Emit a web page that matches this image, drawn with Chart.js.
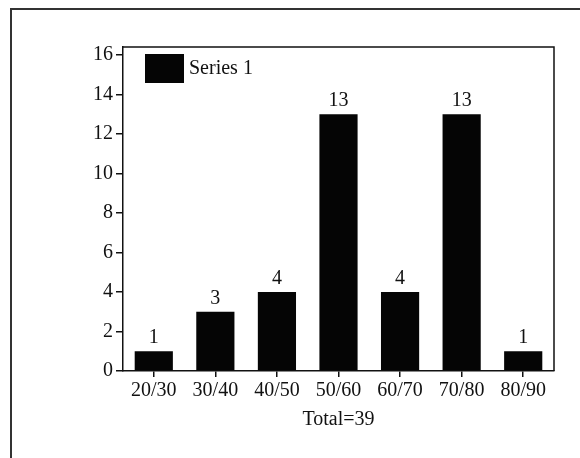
<!DOCTYPE html>
<html>
<head>
<meta charset="utf-8">
<script src="https://cdn.jsdelivr.net/npm/chart.js@4/dist/chart.umd.min.js"></script>
<style>
  html, body { margin: 0; padding: 0; background: #fff; }
  #wrap { position: relative; width: 580px; height: 458px; }
</style>
</head>
<body>
<div id="wrap"><canvas id="ageChart" width="580" height="458"></canvas></div>
<script>
// Chart data
const categories = ['20/30', '30/40', '40/50', '50/60', '60/70', '70/80', '80/90'];
const seriesName = 'Series 1';
const counts = [1, 3, 4, 13, 4, 13, 1];
const yTicks = [0, 2, 4, 6, 8, 10, 12, 14, 16];
const axisTitle = 'Total=39';

const serif = 'Liberation Serif, Times New Roman, serif';
const ink = '#111';

// outer frame, plot box, legend and value labels
const decorations = {
    id: 'decorations',
    beforeDraw(chart) {
        const c = chart.ctx;
        c.save();
        c.strokeStyle = '#333';
        c.lineWidth = 2;
        c.beginPath();
        c.moveTo(11, 458);
        c.lineTo(11, 9);
        c.lineTo(580, 9);
        c.stroke();
        c.restore();
    },
    afterDatasetsDraw(chart) {
        const c = chart.ctx;
        const area = chart.chartArea;
        c.save();
        // top and right edges of plot box
        c.strokeStyle = ink;
        c.lineWidth = 1.5;
        c.beginPath();
        c.moveTo(area.left, area.top);
        c.lineTo(area.right, area.top);
        c.lineTo(area.right, area.bottom);
        c.stroke();

        // value labels above bars
        c.fillStyle = ink;
        c.font = '20px ' + serif;
        c.textAlign = 'center';
        c.textBaseline = 'bottom';
        const meta = chart.getDatasetMeta(0);
        meta.data.forEach((bar, i) => {
            c.fillText(String(chart.data.datasets[0].data[i]), bar.x, bar.y - 3);
        });

        // legend
        const ds = chart.data.datasets[0];
        c.fillStyle = ds.backgroundColor;
        c.fillRect(area.left + 22, area.top + 7, 39, 29);
        c.fillStyle = ink;
        c.textAlign = 'left';
        c.textBaseline = 'middle';
        c.fillText(ds.label, area.left + 66, area.top + 22);
        c.restore();
    }
};

new Chart(document.getElementById('ageChart'), {
    type: 'bar',
    data: {
        labels: categories,
        datasets: [{
            label: seriesName,
            data: counts,
            backgroundColor: '#050505',
            borderWidth: 0,
            categoryPercentage: 0.62,
            barPercentage: 1
        }]
    },
    options: {
        responsive: false,
        animation: false,
        devicePixelRatio: 1,
        layout: { padding: { left: 0, top: 47, right: 26, bottom: 22 } },
        plugins: {
            legend: { display: false },
            tooltip: { enabled: false }
        },
        scales: {
            x: {
                grid: { display: true, drawOnChartArea: false, offset: false, tickLength: 6, color: ink, lineWidth: 1.5 },
                border: { display: true, color: ink, width: 1.5 },
                ticks: { color: ink, font: { family: serif, size: 20 }, padding: 2, maxRotation: 0 },
                title: { display: true, text: axisTitle, color: ink, font: { family: serif, size: 20 }, padding: { top: 3, bottom: 4 } }
            },
            y: {
                min: 0,
                max: 16.4,
                afterFit(scale) { scale.width = 123; },
                afterBuildTicks(scale) {
                    scale.ticks = yTicks.map(v => ({ value: v }));
                },
                grid: { display: true, drawOnChartArea: false, tickLength: 7, color: ink, lineWidth: 1.5 },
                border: { display: true, color: ink, width: 1.5 },
                ticks: { color: ink, font: { family: serif, size: 20 }, padding: 3 }
            }
        }
    },
    plugins: [decorations]
});
</script>
</body>
</html>
